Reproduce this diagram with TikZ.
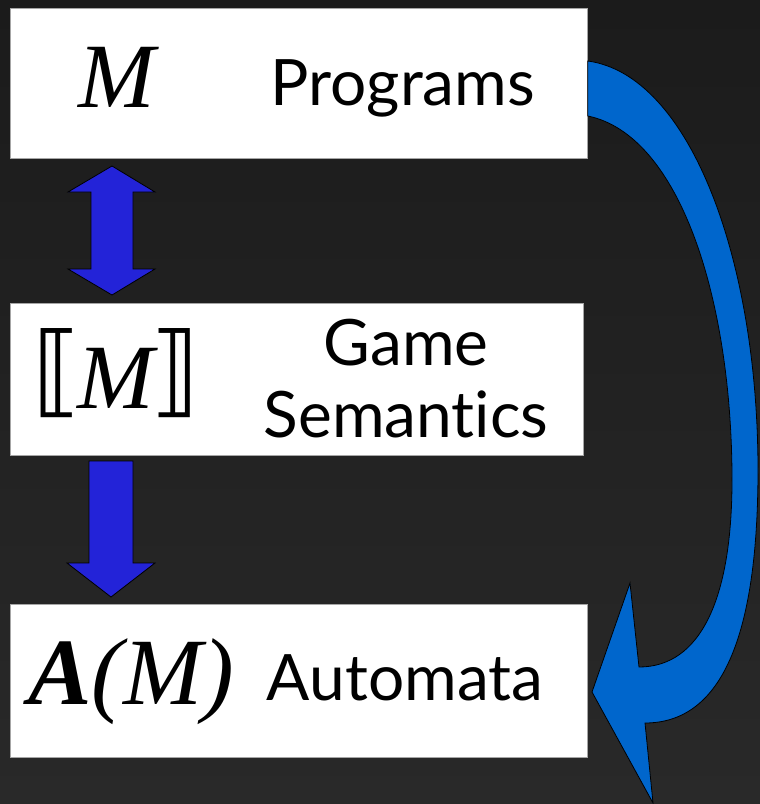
\documentclass[tikz,border=0pt]{standalone}
\usepackage{fontspec}
\setmainfont{Liberation Serif}
\newfontfamily\lab[RawFeature=-liga]{Lato}
\newfontfamily\brk{DejaVu Sans}
\definecolor{bgtop}{HTML}{1B1B1B}
\definecolor{bgbot}{HTML}{292929}
\definecolor{barrow}{HTML}{2323D8}
\definecolor{carrow}{HTML}{0066CC}
\tikzset{
  box/.style={draw=gray!70, line width=0.8pt, fill=white, rectangle, anchor=north west, inner sep=0pt},
  labtext/.style={font=\lab\fontsize{64}{72}\selectfont, text=black, align=center, inner sep=0pt},
  mathtext/.style={font=\fontsize{92}{96}\selectfont, text=black, inner sep=0pt},
  blockarrow/.style={draw=black, line width=0.8pt, line join=miter},
}
\newcommand{\bigbrk}[1]{{\brk\fontsize{100}{110}\selectfont #1}}
\begin{document}
\begin{tikzpicture}[x=1pt,y=-1pt]
\shade[top color=bgtop, bottom color=bgbot] (0,0) rectangle (760,804);
\useasboundingbox (0,0) rectangle (760,804);
% boxes
\node[box, minimum width=577pt, minimum height=150pt] (b1) at (10,8) {};
\node[box, minimum width=573pt, minimum height=152pt] (b2) at (10,303) {};
\node[box, minimum width=577pt, minimum height=153pt] (b3) at (10,604) {};
% curved arrow
\draw[blockarrow, fill=carrow]
  (b1.east |- 0,61) .. controls (690,75) and (758,260) .. (758,470)
  .. controls (758,640) and (720,723) .. (645,723)
  -- (653,803) -- (592,692) -- (630,583) -- (639,667)
  .. controls (700,667) and (732,600) .. (732,480)
  .. controls (732,300) and (680,135) .. (b1.east |- 0,116) -- cycle;
% double arrow
\draw[blockarrow, fill=barrow]
  (112,166) -- (155,192) -- (133,192) -- (133,269) -- (155,269) -- (112,295)
  -- (68,269) -- (91,269) -- (91,192) -- (68,192) -- cycle;
% down arrow
\draw[blockarrow, fill=barrow]
  (89,461) -- (133,461) -- (133,563) -- (155,563) -- (111,597) -- (67,563) -- (89,563) -- cycle;
% texts
\node[labtext, anchor=base] (t1) at (403,105) {Programs};
\node[labtext, anchor=base] (t2) at (406,437) {Game\\Semantics};
\node[labtext, anchor=base] (t3) at (405,700) {Automata};
\node[mathtext, anchor=base] (m1) at (117,107) {\itshape M};
\node[mathtext, anchor=base] (m2) at (116,408) {\raisebox{4pt}{\bigbrk{⟦}}\kern-4pt{\itshape M}\kern-4pt\raisebox{4pt}{\bigbrk{⟧}}};
\node[mathtext, anchor=base, font=\fontsize{95}{100}\selectfont] (m3) at (131,704) {\bfseries\itshape A\mdseries(M)};
\end{tikzpicture}
\end{document}
